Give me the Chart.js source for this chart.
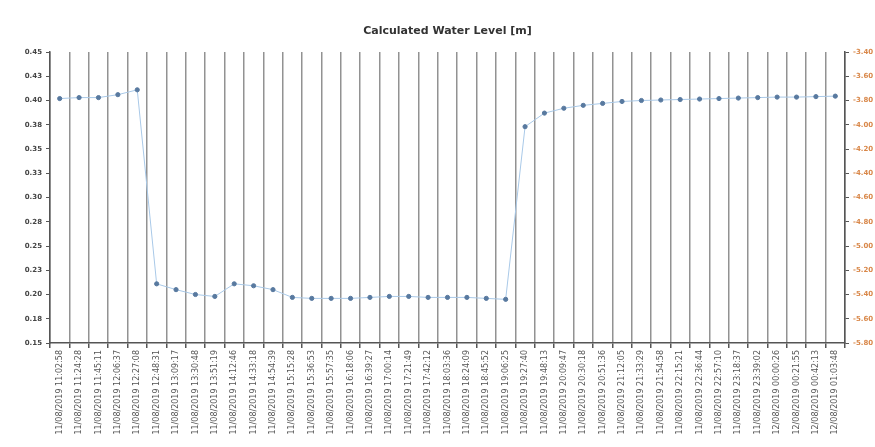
<!DOCTYPE html>
<html>
<head>
<meta charset="utf-8">
<script src="https://cdn.jsdelivr.net/npm/chart.js@4/dist/chart.umd.min.js"></script>
<style>
  html, body { margin: 0; padding: 0; background: #ffffff; }
  #wrap { width: 875px; height: 447px; position: relative; }
</style>
</head>
<body>
<div id="wrap"><canvas id="c" width="875" height="447"></canvas></div>
<script>
// Reading timestamps along the x axis
const timestamps = [
  "11/08/2019 11:02:58", "11/08/2019 11:24:28", "11/08/2019 11:45:11", "11/08/2019 12:06:37", "11/08/2019 12:27:08",
  "11/08/2019 12:48:31", "11/08/2019 13:09:17", "11/08/2019 13:30:48", "11/08/2019 13:51:19", "11/08/2019 14:12:46",
  "11/08/2019 14:33:18", "11/08/2019 14:54:39", "11/08/2019 15:15:28", "11/08/2019 15:36:53", "11/08/2019 15:57:35",
  "11/08/2019 16:18:06", "11/08/2019 16:39:27", "11/08/2019 17:00:14", "11/08/2019 17:21:49", "11/08/2019 17:42:12",
  "11/08/2019 18:03:36", "11/08/2019 18:24:09", "11/08/2019 18:45:52", "11/08/2019 19:06:25", "11/08/2019 19:27:40",
  "11/08/2019 19:48:13", "11/08/2019 20:09:47", "11/08/2019 20:30:18", "11/08/2019 20:51:36", "11/08/2019 21:12:05",
  "11/08/2019 21:33:29", "11/08/2019 21:54:58", "11/08/2019 22:15:21", "11/08/2019 22:36:44", "11/08/2019 22:57:10",
  "11/08/2019 23:18:37", "11/08/2019 23:39:02", "12/08/2019 00:00:26", "12/08/2019 00:21:55", "12/08/2019 00:42:13",
  "12/08/2019 01:03:48"
];

// Calculated water level [m]
const waterLevel = [
  0.402, 0.403, 0.403, 0.406, 0.411,
  0.211, 0.205, 0.200, 0.198, 0.211,
  0.209, 0.205, 0.197, 0.196, 0.196,
  0.196, 0.197, 0.198, 0.198, 0.197,
  0.197, 0.197, 0.196, 0.195, 0.373,
  0.387, 0.392, 0.395, 0.397, 0.399,
  0.400, 0.4005, 0.401, 0.4015, 0.402,
  0.4025, 0.403, 0.4035, 0.4035, 0.404,
  0.4045
];

// Axis tick labels, bottom to top
const leftTickLabels = ["0.15", "0.18", "0.20", "0.23", "0.25", "0.28", "0.30", "0.33", "0.35", "0.38", "0.40", "0.43", "0.45"];
const rightTickLabels = ["-5.80", "-5.60", "-5.40", "-5.20", "-5.00", "-4.80", "-4.60", "-4.40", "-4.20", "-4.00", "-3.80", "-3.60", "-3.40"];

const chartTitle = "Calculated Water Level [m]";

const axisColor = "#555555";
const fam = "DejaVu Sans, Verdana, sans-serif";

// Title centred over the plot area rather than the whole canvas
const plotTitle = {
  id: "plotTitle",
  afterDraw(chart) {
    const { ctx, chartArea } = chart;
    ctx.save();
    ctx.font = "bold 11px " + fam;
    ctx.fillStyle = "#333333";
    ctx.textAlign = "center";
    ctx.textBaseline = "middle";
    ctx.fillText(chartTitle, (chartArea.left + chartArea.right) / 2, 31);
    ctx.restore();
  }
};

new Chart(document.getElementById("c"), {
  type: "line",
  data: {
    labels: timestamps,
    datasets: [{
      label: chartTitle,
      data: waterLevel,
      yAxisID: "y",
      borderColor: "#a9c9e8",
      borderWidth: 1,
      pointBackgroundColor: "#58799f",
      pointBorderColor: "#58799f",
      pointRadius: 2.1,
      pointHoverRadius: 2.1,
      tension: 0
    }]
  },
  plugins: [plotTitle],
  options: {
    responsive: false,
    animation: false,
    events: [],
    layout: { padding: { left: 0, right: 0, top: 52, bottom: 0 } },
    plugins: {
      legend: { display: false },
      tooltip: { enabled: false },
      title: { display: false }
    },
    scales: {
      x: {
        offset: true,
        grid: {
          offset: true,
          color: "#929292",
          lineWidth: 1.5,
          drawTicks: true,
          tickLength: 5,
          tickColor: axisColor
        },
        border: { color: axisColor, width: 1.5 },
        ticks: {
          autoSkip: false,
          minRotation: 90,
          maxRotation: 90,
          color: "#555555",
          font: { family: fam, size: 8 },
          padding: 2
        },
        afterFit: (s) => { s.height = 104; }
      },
      y: {
        position: "left",
        min: 0.15,
        max: 0.45,
        grid: { drawOnChartArea: false, tickLength: 4, tickColor: axisColor },
        border: { color: axisColor, width: 1.5 },
        ticks: {
          stepSize: 0.025,
          color: "#444444",
          font: { family: fam, size: 7, weight: "bold" },
          padding: 4,
          callback: (v, i) => leftTickLabels[i]
        },
        afterFit: (s) => { s.width = 50; }
      },
      y1: {
        position: "right",
        min: -5.8,
        max: -3.4,
        grid: { drawOnChartArea: false, tickLength: 4, tickColor: axisColor },
        border: { color: axisColor, width: 1.5 },
        ticks: {
          stepSize: 0.2,
          color: "#d9884a",
          font: { family: fam, size: 7, weight: "bold" },
          padding: 4,
          callback: (v, i) => rightTickLabels[i]
        },
        afterFit: (s) => { s.width = 30; }
      }
    }
  }
});
</script>
</body>
</html>
